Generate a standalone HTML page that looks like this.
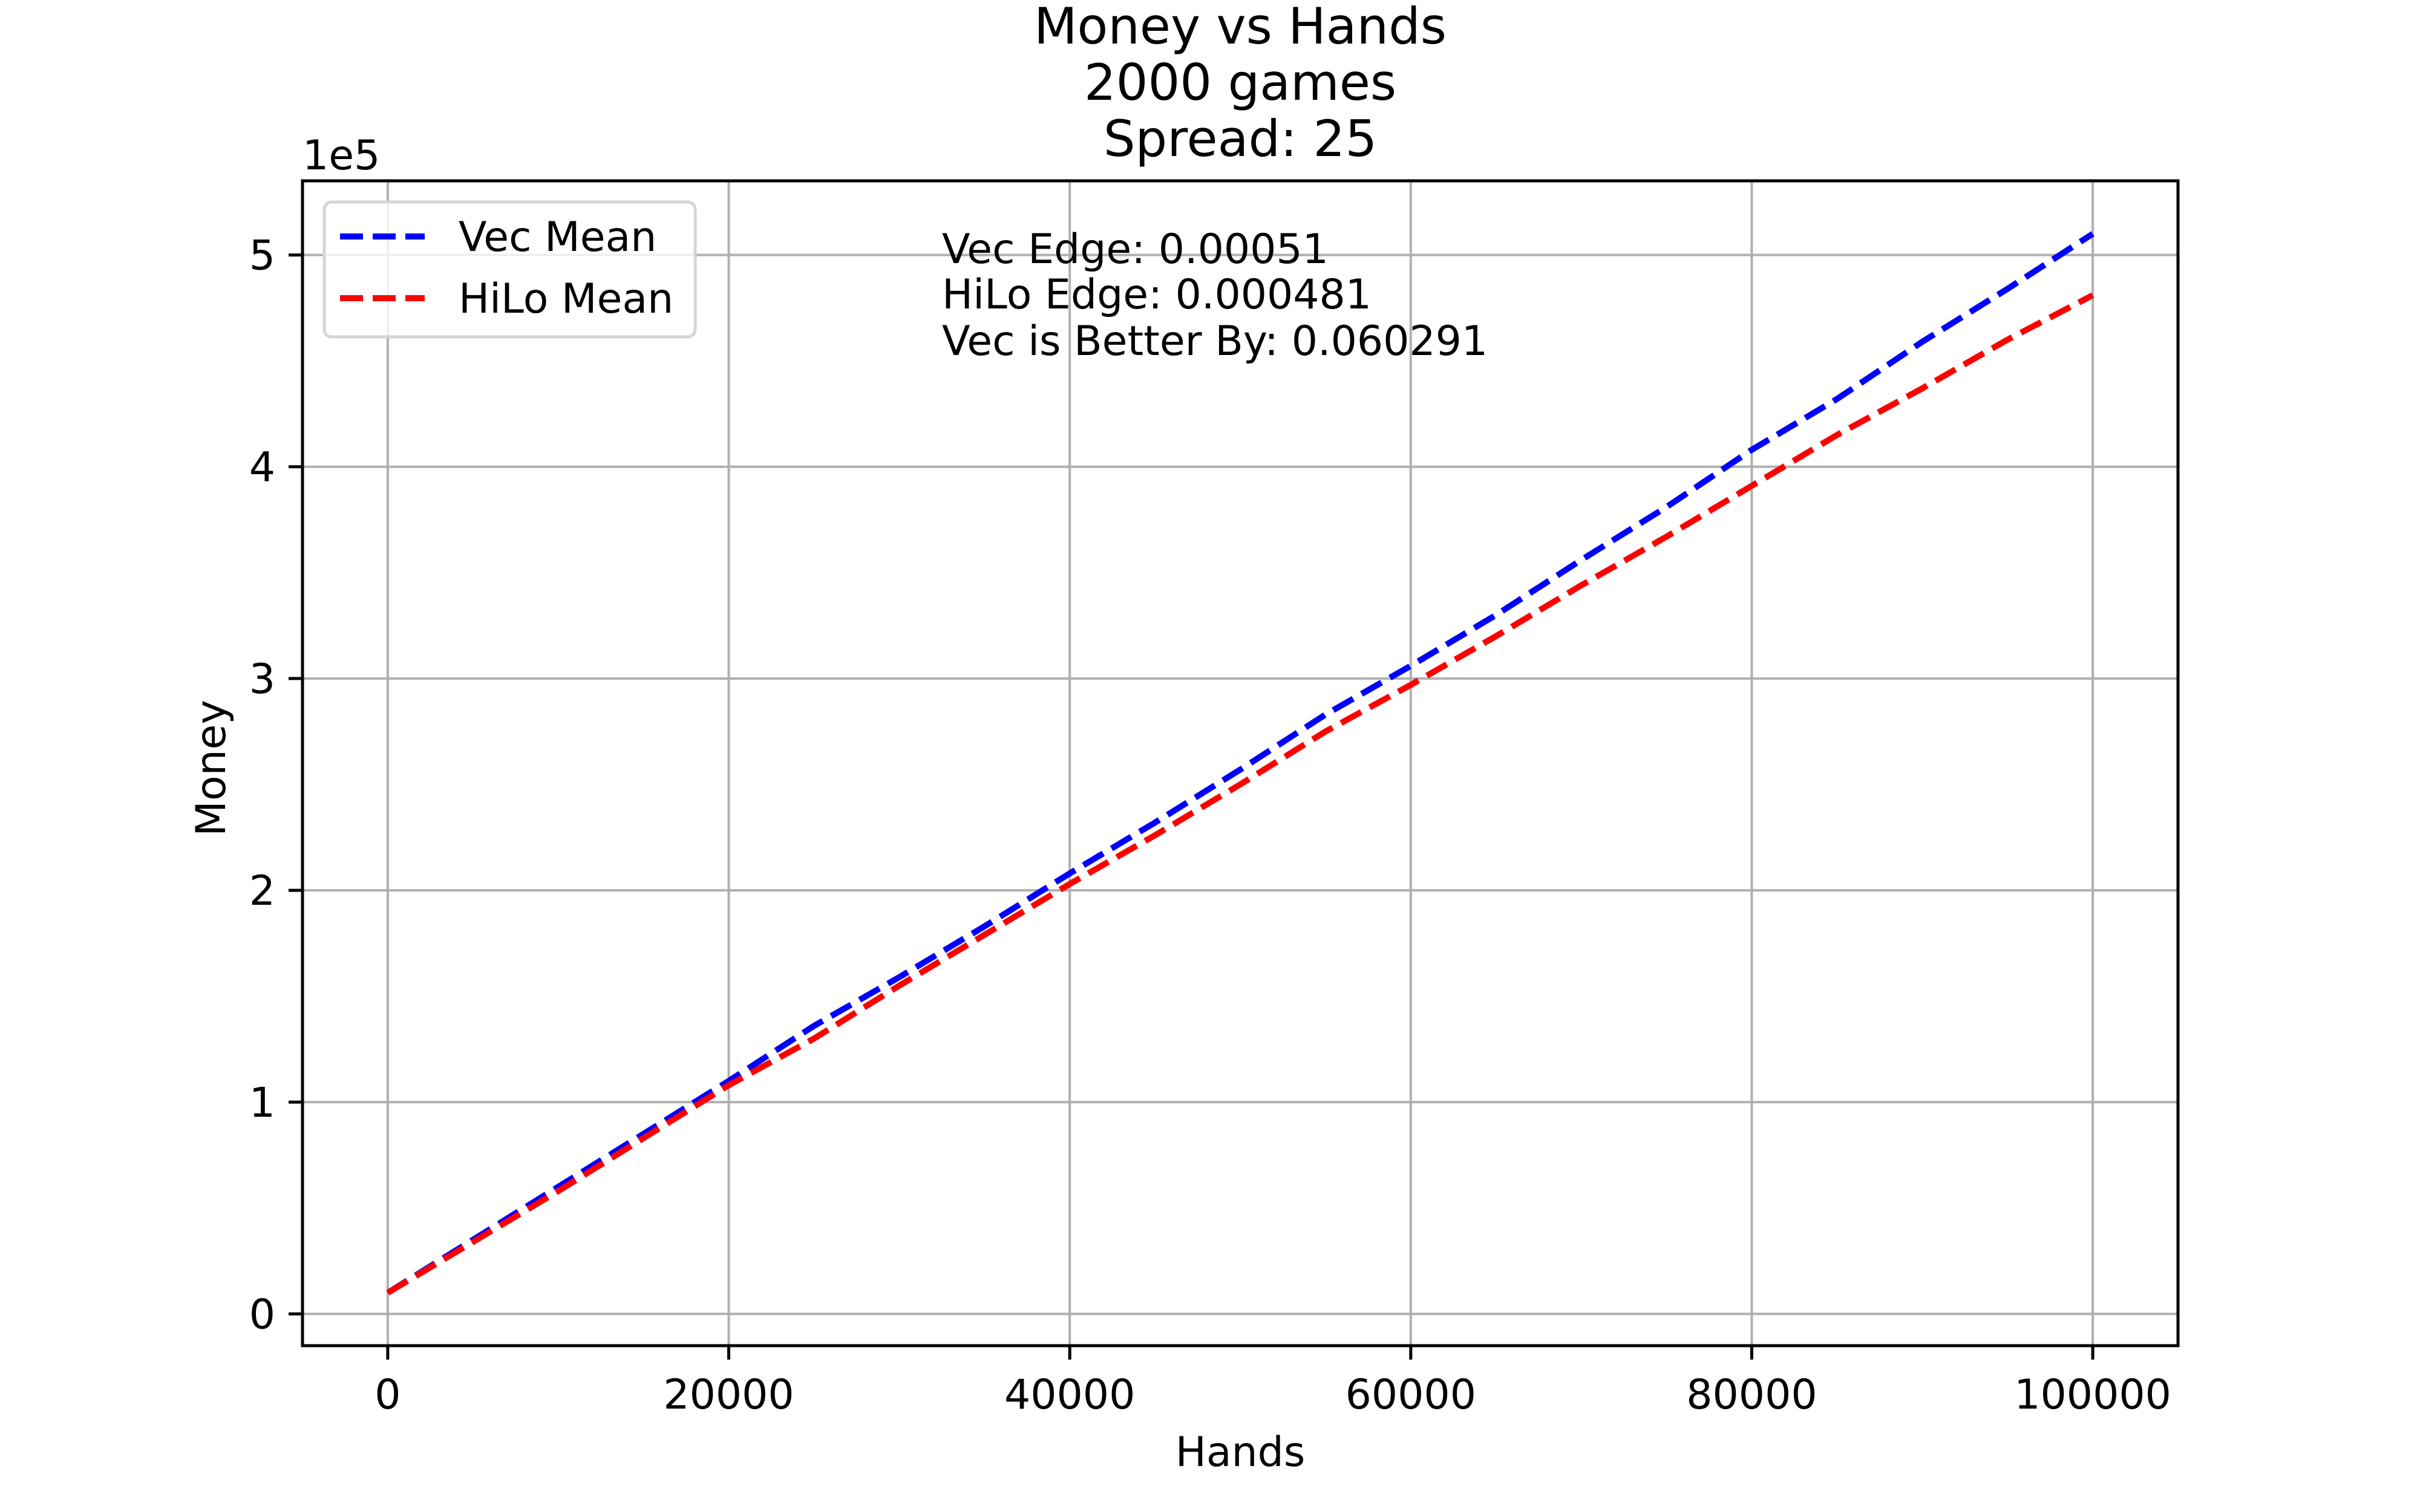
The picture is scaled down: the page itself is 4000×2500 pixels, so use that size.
<!DOCTYPE html>
<html><head><meta charset="utf-8"><style>
html,body{margin:0;padding:0;background:#fff;}
svg{display:block;font-family:"DejaVu Sans","Liberation Sans",sans-serif;}
</style></head><body>
<svg id="chart" width="4000" height="2500" viewBox="0 0 4000 2500" xmlns="http://www.w3.org/2000/svg">
<rect x="0" y="0" width="4000" height="2500" fill="#fff"/>
<g font-size="83" text-anchor="middle" fill="#000">
<text x="2050" y="72">Money vs Hands</text>
<text x="2050" y="165">2000 games</text>
<text x="2050" y="258">Spread: 25</text>
</g>
<g id="grid"></g>
<g id="series"></g>
<rect x="500" y="299" width="3100" height="1926" fill="none" stroke="#000" stroke-width="5"/>
<g id="ticks"></g>
<text x="500" y="280" font-size="68">1e5</text>
<text x="2050" y="2424" font-size="68" text-anchor="middle">Hands</text>
<text x="0" y="0" font-size="68" text-anchor="middle" transform="translate(372,1270) rotate(-90)">Money</text>
<g font-size="68">
<text x="1557" y="435">Vec Edge: 0.00051</text>
<text x="1557" y="510">HiLo Edge: 0.000481</text>
<text x="1557" y="587">Vec is Better By: 0.060291</text>
</g>
<g>
<rect x="536" y="334" width="613" height="223" rx="12" fill="#fff" fill-opacity="0.8" stroke="#d5d5d5" stroke-width="5"/>
<line x1="562" y1="391" x2="702" y2="391" stroke="#0000ff" stroke-width="10" stroke-dasharray="38,16"/>
<text x="758" y="415" font-size="68">Vec Mean</text>
<line x1="562" y1="493" x2="702" y2="493" stroke="#ff0000" stroke-width="10" stroke-dasharray="38,16"/>
<text x="758" y="517" font-size="68">HiLo Mean</text>
</g>
</svg>
<script>
const hands = [0,5000,10000,15000,20000,25000,30000,35000,40000,45000,50000,55000,60000,65000,70000,75000,80000,85000,90000,95000,100000];
const vecMean = [10000,35000,60000,85000,110000,136000,159000,183000,208000,232000,257000,283000,306000,330000,356000,381000,408000,432000,459000,484000,510000];
const hiloMean = [10000,34000,58000,83000,108000,130000,155000,179000,203000,226000,250000,275000,297000,320000,344000,367000,391000,415000,437000,460000,481000];
const xTicks = [0,20000,40000,60000,80000,100000];
const xTickLabels = ["0","20000","40000","60000","80000","100000"];
const yTicks = [0,100000,200000,300000,400000,500000];
const yTickLabels = ["0","1","2","3","4","5"];

const NS = "http://www.w3.org/2000/svg";
const L=500,R=3600,T=299,B=2225;
const xMin=-5000,xMax=105000,yMin=-15000,yMax=535000;
function sx(v){return L+(v-xMin)/(xMax-xMin)*(R-L);}
function sy(v){return B-(v-yMin)/(yMax-yMin)*(B-T);}
function mk(tag,attrs,parent){const e=document.createElementNS(NS,tag);for(const k in attrs)e.setAttribute(k,attrs[k]);parent.appendChild(e);return e;}
const grid=document.getElementById('grid'),ticks=document.getElementById('ticks'),series=document.getElementById('series');
xTicks.forEach((v,i)=>{
  const g=mk('line',{x1:sx(v),x2:sx(v),y1:T,y2:B,stroke:'#b0b0b0','stroke-width':4},grid);
  
  
  const t=mk('line',{x1:sx(v),x2:sx(v),y1:B,y2:B+23,stroke:'#000','stroke-width':5},ticks);
  
  
  const l=mk('text',{x:sx(v),y:B+104,'font-size':68,'text-anchor':'middle'},ticks);
  l.textContent=xTickLabels[i];
  
  
});
yTicks.forEach((v,i)=>{
  const g=mk('line',{x1:L,x2:R,y1:sy(v),y2:sy(v),stroke:'#b0b0b0','stroke-width':4},grid);
  
  
  const t=mk('line',{x1:L-23,x2:L,y1:sy(v),y2:sy(v),stroke:'#000','stroke-width':5},ticks);
  
  
  const l=mk('text',{x:L-45,y:sy(v)+24,'font-size':68,'text-anchor':'end'},ticks);
  l.textContent=yTickLabels[i];
  
  
});
function pts(arr){return hands.map((h,i)=>sx(h)+','+sy(arr[i])).join(' ');}
const v=mk('polyline',{points:pts(vecMean),fill:'none',stroke:'#0000ff','stroke-width':10,'stroke-dasharray':'38,16'},series);


const h=mk('polyline',{points:pts(hiloMean),fill:'none',stroke:'#ff0000','stroke-width':10,'stroke-dasharray':'38,16'},series);


</script>
</body></html>
